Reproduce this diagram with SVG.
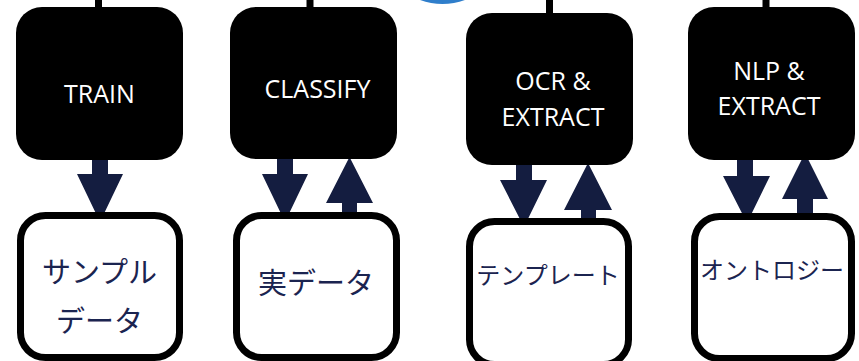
<svg xmlns="http://www.w3.org/2000/svg" width="859" height="361" viewBox="0 0 859 361">
<style>
.step{fill:#000}
.lbl{fill:#fff;font-family:"Open Sans","Liberation Sans",sans-serif;font-size:25px;text-anchor:middle}
.data{fill:#fff;stroke:#000;stroke-width:7}
.jp{fill:#1b2450;font-family:"Noto Sans CJK JP","Noto Sans",sans-serif;text-anchor:middle}
.arr{fill:#141d40}
.feed{stroke:#000;stroke-width:7}
</style>
<rect width="859" height="361" fill="#fff"/>
<circle cx="442.5" cy="-61" r="65" fill="#2f7ecb"/>
<g id="connectors">
<line class="feed" x1="98.5" y1="0" x2="98.5" y2="10"/>
<line class="feed" x1="310" y1="0" x2="310" y2="10"/>
<line class="feed" x1="549.5" y1="0" x2="549.5" y2="15"/>
<line class="feed" x1="766" y1="0" x2="766" y2="10"/>
<polygon class="arr" points="92,158 108,158 108,174 123,174 100,222 77,174 92,174"/>
<polygon class="arr" points="277,158 293,158 293,174 308,174 285,222 262,174 277,174"/>
<polygon class="arr" points="342,220 357,220 357,203 373,203 349.5,157 326,203 342,203"/>
<polygon class="arr" points="516,163 532,163 532,180 547,180 524,227 500,180 516,180"/>
<polygon class="arr" points="581,226 596,226 596,210 612,210 588,163 564,210 581,210"/>
<polygon class="arr" points="737,158 753,158 753,176 770,176 747,223 723,176 737,176"/>
<polygon class="arr" points="797,215 813,215 813,199 828,199 805,153 782,199 797,199"/>
</g>
<g id="train">
<rect class="step" x="16" y="7" width="167" height="153" rx="26"/>
<text class="lbl" x="99.5" y="103">TRAIN</text>
</g>
<g id="classify">
<rect class="step" x="230" y="7" width="167" height="152" rx="26"/>
<text class="lbl" x="317.5" y="98">CLASSIFY</text>
</g>
<g id="ocr">
<rect class="step" x="466" y="13" width="167" height="152" rx="26"/>
<text class="lbl" x="553" y="90">OCR &amp;</text>
<text class="lbl" x="553" y="126">EXTRACT</text>
</g>
<g id="nlp">
<rect class="step" x="688" y="7" width="167" height="153" rx="26"/>
<text class="lbl" x="769" y="80">NLP &amp;</text>
<text class="lbl" x="769" y="115">EXTRACT</text>
</g>
<g id="sample">
<rect class="data" x="20.5" y="215.5" width="159" height="142" rx="25"/>
<text class="jp" x="99.5" y="283" font-size="29">サンプル</text>
<text class="jp" x="99.5" y="332" font-size="29">データ</text>
</g>
<g id="real">
<rect class="data" x="236.5" y="215.5" width="160" height="142" rx="25"/>
<text class="jp" x="316" y="294" font-size="29">実データ</text>
</g>
<g id="template">
<rect class="data" x="469.5" y="221.5" width="159" height="143" rx="25"/>
<text class="jp" x="548" y="284" font-size="24">テンプレート</text>
</g>
<g id="ontology">
<rect class="data" x="694.5" y="216.5" width="157" height="142" rx="25"/>
<text class="jp" x="772" y="279" font-size="24">オントロジー</text>
</g>
</svg>
